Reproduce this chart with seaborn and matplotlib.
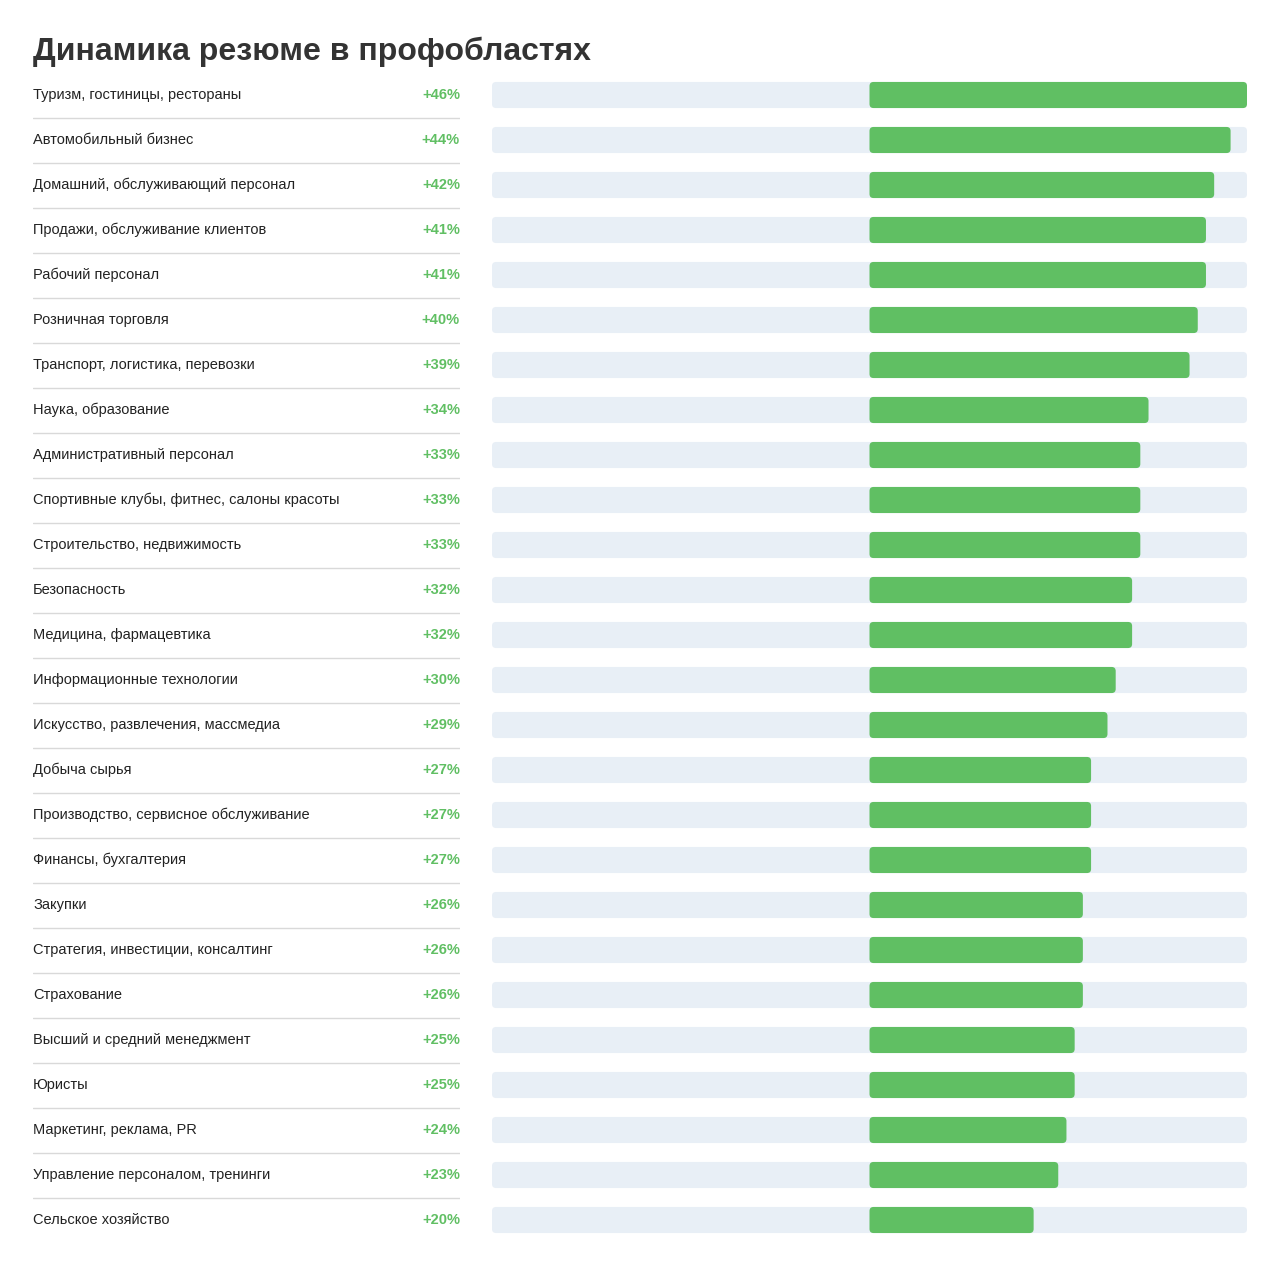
import numpy as np
import pandas as pd
import seaborn as sns
import matplotlib
matplotlib.use('Agg')
import matplotlib.pyplot as plt
from matplotlib.patches import FancyBboxPatch

categories = [
    "Туризм, гостиницы, рестораны", "Автомобильный бизнес", "Домашний, обслуживающий персонал",
    "Продажи, обслуживание клиентов", "Рабочий персонал", "Розничная торговля",
    "Транспорт, логистика, перевозки", "Наука, образование", "Административный персонал",
    "Спортивные клубы, фитнес, салоны красоты", "Строительство, недвижимость", "Безопасность",
    "Медицина, фармацевтика", "Информационные технологии", "Искусство, развлечения, массмедиа",
    "Добыча сырья", "Производство, сервисное обслуживание", "Финансы, бухгалтерия", "Закупки",
    "Стратегия, инвестиции, консалтинг", "Страхование", "Высший и средний менеджмент", "Юристы",
    "Маркетинг, реклама, PR", "Управление персоналом, тренинги", "Сельское хозяйство",
]
values = [46, 44, 42, 41, 41, 40, 39, 34, 33, 33, 33, 32, 32, 30, 29, 27, 27, 27, 26, 26, 26, 25, 25, 24, 23, 20]

GREEN = "#60bf63"
BG = "#e8eff6"
sns.set_theme(style="white")
plt.rcParams['font.family'] = ['Liberation Sans', 'DejaVu Sans']

df = pd.DataFrame({"cat": categories, "val": values})
n = len(df)
W, H = 1280, 1267
fig = plt.figure(figsize=(W / 100, H / 100), dpi=100)

bottom = 1 - 1242.5 / H
height = (1242.5 - 72.5) / H
ax = fig.add_axes([492 / W, bottom, (1247 - 492) / W, height])
lim = max(values)
ax.barh(np.arange(n), [2 * lim] * n, left=-lim, height=0.58, color=BG, zorder=1)
sns.barplot(data=df, x="val", y="cat", color=GREEN, width=0.58, ax=ax, zorder=2, saturation=1)
ax.set_xlim(-lim, lim)
ax.set_ylim(n - 0.5, -0.5)
ax.axis("off")

# rounded corners
for p in list(ax.patches):
    x, y = p.get_x(), p.get_y()
    w, h = p.get_width(), p.get_height()
    fc = p.get_facecolor()
    z = p.get_zorder()
    p.remove()
    ax.add_patch(FancyBboxPatch((x, y), w, h, boxstyle="round,pad=0,rounding_size=0.5",
                                mutation_aspect=0.18, fc=fc, ec="none", zorder=z))

lax = fig.add_axes([33 / W, bottom, (460 - 33) / W, height])
lax.set_xlim(0, 1)
lax.set_ylim(n - 0.5, -0.5)
lax.axis("off")
for i, (c, v) in enumerate(zip(categories, values)):
    lax.text(0, i, c, ha="left", va="center", fontsize=10.5, color="#222222")
    lax.text(1, i, f"+{v}%", ha="right", va="center", fontsize=10.5, color=GREEN, fontweight="bold")
    if i < n - 1:
        lax.axhline(i + 0.5, color="#d9d9d9", lw=1)

fig.text(33 / W, 1 - 52 / H, "Динамика резюме в профобластях", fontsize=23, fontweight="bold",
         color="#333333", ha="left", va="center")

fig.savefig("out.png", dpi=100, facecolor="white")
